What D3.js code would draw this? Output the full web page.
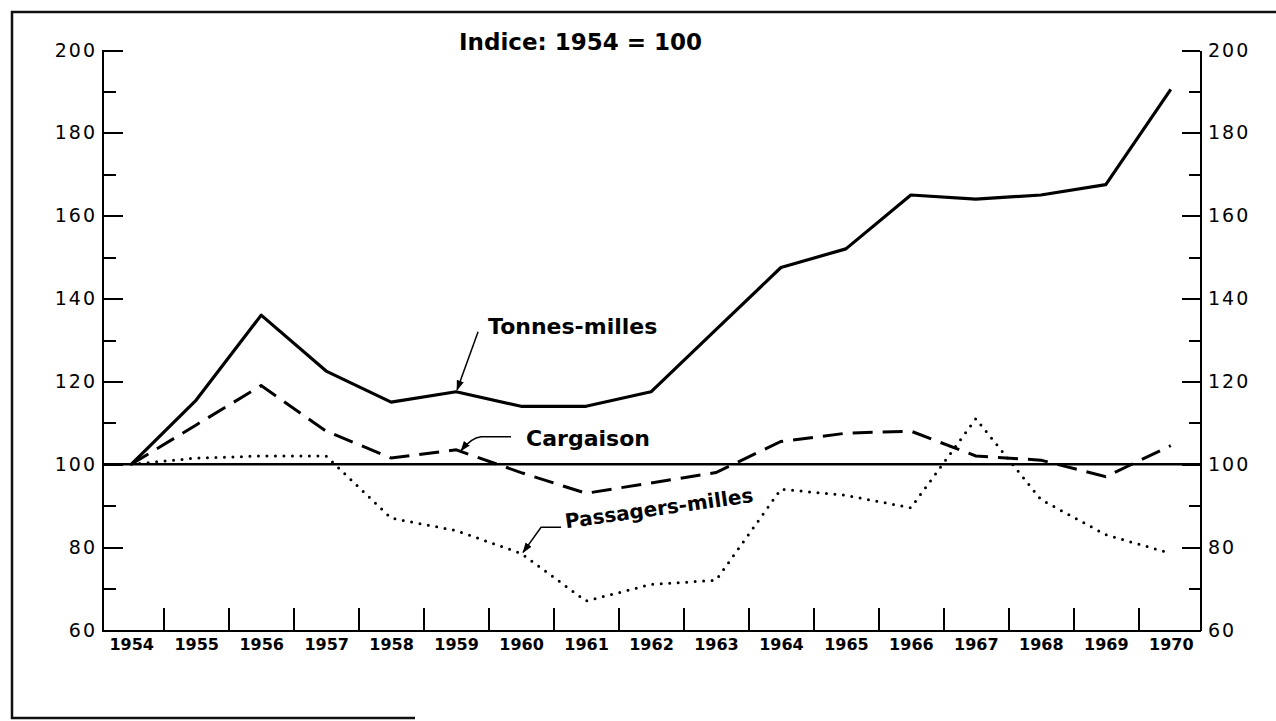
<!DOCTYPE html>
<meta charset="utf-8">
<style>
    body {
        margin: 0;
        background: #fff;
    }

    .axis path,
    .axis line {
        fill: none;
        stroke: #000;
        stroke-width: 2;
        shape-rendering: crispEdges;
    }

    .axis text {
        fill: #000;
        font-family: "DejaVu Sans", sans-serif;
    }

    .label {
        font-family: "DejaVu Sans", sans-serif;
        font-weight: bold;
        fill: #000;
    }
</style>

<body>
    <script src="https://d3js.org/d3.v7.min.js"></script>
    <script>

        // Indice: 1954 = 100
        var years = [1954, 1955, 1956, 1957, 1958, 1959, 1960, 1961, 1962,
            1963, 1964, 1965, 1966, 1967, 1968, 1969, 1970];
        var tonnesMilles = [100, 115.5, 136, 122.5, 115, 117.5, 114, 114, 117.5,
            132.5, 147.5, 152, 165, 164, 165, 167.5, 190.5];
        var cargaison = [100, 109.5, 119, 108, 101.5, 103.5, 98, 93, 95.5,
            98, 105.5, 107.5, 108, 102, 101, 97, 104.5];
        var passagersMilles = [100, 101.5, 102, 102, 87, 84, 78.5, 67, 71,
            72, 94, 92.5, 89.5, 111, 91.5, 83, 78.5];
        var majorTicks = [60, 80, 100, 120, 140, 160, 180, 200];
        var minorTicks = [70, 90, 110, 130, 150, 170, 190];
        var yearSeparators = [1954.5, 1955.5, 1956.5, 1957.5, 1958.5, 1959.5, 1960.5, 1961.5,
            1962.5, 1963.5, 1964.5, 1965.5, 1966.5, 1967.5, 1968.5, 1969.5];

        var width = 1276, height = 721;
        var plotLeft = 102, plotRight = 1200, plotTop = 50, plotBottom = 630;

        var svg = d3.select("body").append("svg")
            .attr("width", width)
            .attr("height", height);

        var x = d3.scaleLinear()
            .domain([1953.55, 1970.45])
            .range([plotLeft, plotRight]);

        var y = d3.scaleLinear()
            .domain([60, 200])
            .range([plotBottom, plotTop]);

        // arrow head
        svg.append("defs").append("marker")
            .attr("id", "head")
            .attr("viewBox", "0 0 10 10")
            .attr("refX", 9)
            .attr("refY", 5)
            .attr("markerWidth", 7)
            .attr("markerHeight", 7)
            .attr("orient", "auto")
            .append("path")
            .attr("d", "M0,1.5 L10,5 L0,8.5 Z")
            .attr("fill", "#000");

        // frame
        svg.append("path")
            .attr("d", "M1276,12 L12,12 L12,718 L415,718")
            .attr("fill", "none")
            .attr("stroke", "#111")
            .attr("stroke-width", 2.5);

        // left axis
        svg.append("g")
            .attr("class", "axis")
            .attr("transform", "translate(" + plotLeft + ",0)")
            .call(d3.axisLeft(y).tickValues(majorTicks).tickSizeInner(-21).tickSizeOuter(0).tickPadding(5))
            .call(g => g.selectAll("text").style("font-size", "19px").style("letter-spacing", "2px"));

        svg.append("g")
            .attr("class", "axis")
            .attr("transform", "translate(" + plotLeft + ",0)")
            .call(d3.axisLeft(y).tickValues(minorTicks).tickSizeInner(-14).tickSizeOuter(0).tickFormat(""))
            .call(g => g.select(".domain").remove());

        // right axis
        svg.append("g")
            .attr("class", "axis")
            .attr("transform", "translate(" + plotRight + ",0)")
            .call(d3.axisRight(y).tickValues(majorTicks).tickSizeInner(-18).tickSizeOuter(0).tickPadding(8))
            .call(g => g.selectAll("text").style("font-size", "19px").style("letter-spacing", "2px"));

        svg.append("g")
            .attr("class", "axis")
            .attr("transform", "translate(" + plotRight + ",0)")
            .call(d3.axisRight(y).tickValues(minorTicks).tickSizeInner(-11).tickSizeOuter(0).tickFormat(""))
            .call(g => g.select(".domain").remove());

        // bottom axis: separators between years, labels under each year
        svg.append("g")
            .attr("class", "axis")
            .attr("transform", "translate(0," + plotBottom + ")")
            .call(d3.axisBottom(x).tickValues(yearSeparators).tickSizeInner(-22).tickSizeOuter(0).tickFormat(""))
            .call(g => g.select(".domain").attr("stroke-width", 2.5));

        svg.append("g")
            .attr("class", "axis")
            .attr("transform", "translate(0," + plotBottom + ")")
            .call(d3.axisBottom(x).tickValues(years).tickSize(0).tickPadding(9).tickFormat(d3.format("d")))
            .call(g => g.select(".domain").remove())
            .call(g => g.selectAll("text").style("font-size", "16px").style("font-weight", "bold"));

        // base line at 100
        svg.append("line")
            .attr("x1", plotLeft)
            .attr("x2", plotRight)
            .attr("y1", y(100))
            .attr("y2", y(100))
            .attr("stroke", "#000")
            .attr("stroke-width", 2.5);

        var line = d3.line()
            .x((d, i) => x(years[i]))
            .y(d => y(d));

        svg.append("path")
            .attr("d", line(tonnesMilles))
            .attr("fill", "none")
            .attr("stroke", "#000")
            .attr("stroke-width", 3.2)
            .attr("stroke-linejoin", "round");

        svg.append("path")
            .attr("d", line(cargaison))
            .attr("fill", "none")
            .attr("stroke", "#000")
            .attr("stroke-width", 3)
            .attr("stroke-dasharray", "20 10");

        svg.append("path")
            .attr("d", line(passagersMilles))
            .attr("fill", "none")
            .attr("stroke", "#000")
            .attr("stroke-width", 3)
            .attr("stroke-linecap", "round")
            .attr("stroke-dasharray", "0 8.5");

        // title
        svg.append("text")
            .attr("class", "label")
            .attr("x", 459)
            .attr("y", 50)
            .style("font-size", "23px")
            .text("Indice: 1954 = 100");

        // series labels with arrows
        var tipT = [x(1959), y(tonnesMilles[5]) - 2];
        svg.append("text")
            .attr("class", "label")
            .attr("x", tipT[0] + 32)
            .attr("y", tipT[1] - 56)
            .style("font-size", "22px")
            .text("Tonnes-milles");
        svg.append("line")
            .attr("x1", tipT[0] + 22)
            .attr("y1", tipT[1] - 58)
            .attr("x2", tipT[0] + 1)
            .attr("y2", tipT[1])
            .attr("stroke", "#000")
            .attr("stroke-width", 1.5)
            .attr("marker-end", "url(#head)");

        var tipC = [x(1959) + 5, y(cargaison[5]) + 1];
        svg.append("text")
            .attr("class", "label")
            .attr("x", tipC[0] + 65)
            .attr("y", tipC[1] - 5)
            .style("font-size", "22px")
            .text("Cargaison");
        svg.append("path")
            .attr("d", "M" + (tipC[0] + 50) + "," + (tipC[1] - 14) +
                " L" + (tipC[0] + 20) + "," + (tipC[1] - 14) +
                " Q" + (tipC[0] + 10) + "," + (tipC[1] - 13) + " " + tipC[0] + "," + tipC[1])
            .attr("fill", "none")
            .attr("stroke", "#000")
            .attr("stroke-width", 1.5)
            .attr("marker-end", "url(#head)");

        var tipP = [x(1960) + 2, y(passagersMilles[6]) - 1];
        svg.append("text")
            .attr("class", "label")
            .attr("transform", "translate(" + (tipP[0] + 43) + "," + (tipP[1] - 24) + ") rotate(-8)")
            .style("font-size", "20px")
            .text("Passagers-milles");
        svg.append("path")
            .attr("d", "M" + (tipP[0] + 38) + "," + (tipP[1] - 25) +
                " L" + (tipP[0] + 18) + "," + (tipP[1] - 25) +
                " L" + tipP[0] + "," + tipP[1])
            .attr("fill", "none")
            .attr("stroke", "#000")
            .attr("stroke-width", 1.5)
            .attr("marker-end", "url(#head)");

    </script>
</body>
